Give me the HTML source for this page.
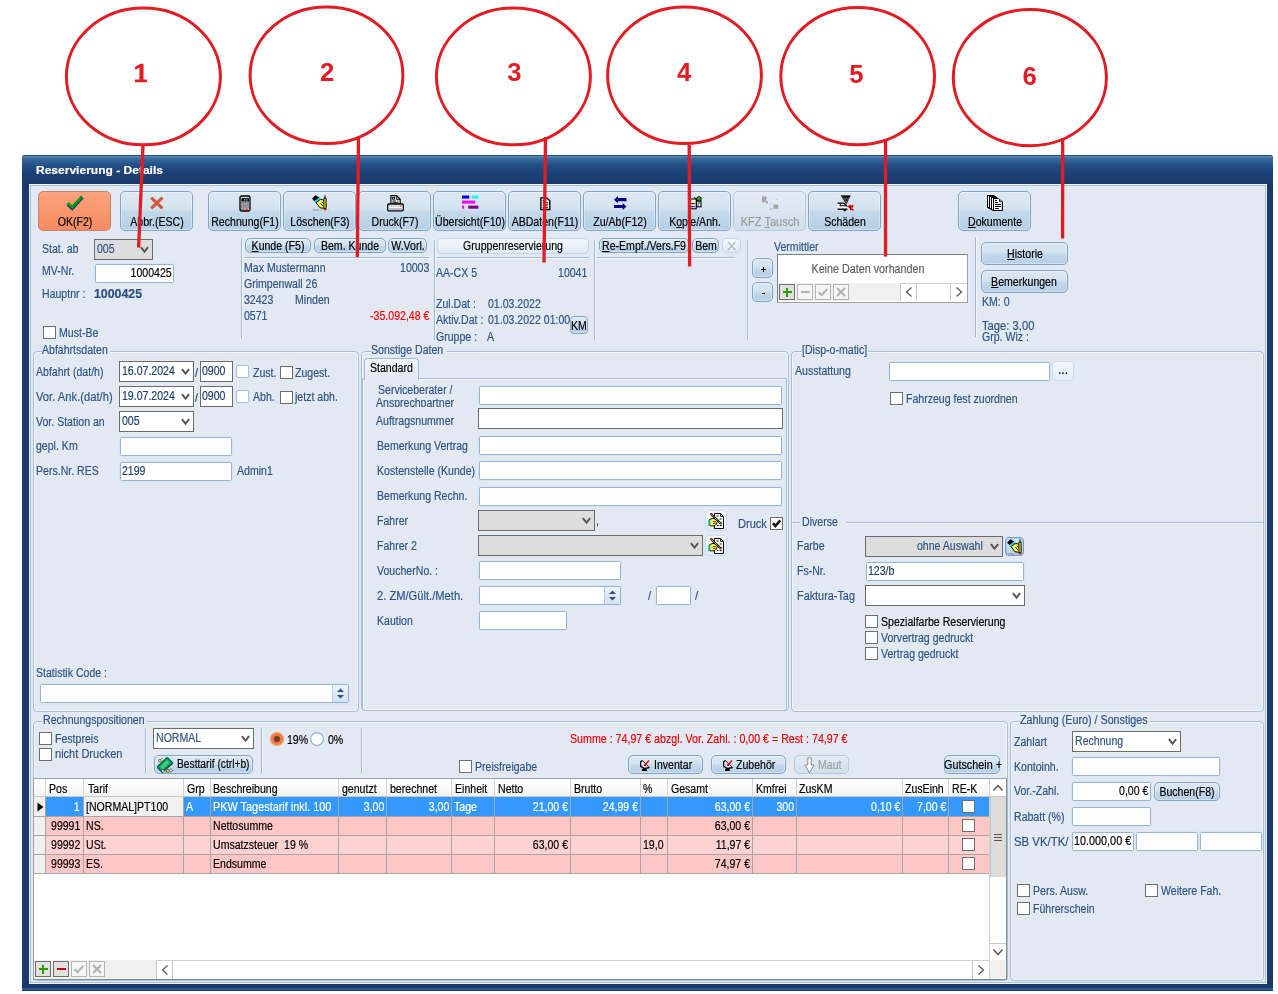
<!DOCTYPE html>
<html><head><meta charset="utf-8"><title>Reservierung - Details</title><style>
html,body{margin:0;padding:0;background:#fff;}
body{width:1278px;height:994px;position:relative;overflow:hidden;font-family:"Liberation Sans",sans-serif;font-size:12px;}
#w{position:absolute;left:0;top:0;width:1278px;height:994px;will-change:transform;}
#w>div,#w>span,#w>svg{position:absolute;box-sizing:content-box;}
div{box-sizing:content-box;}
.t{position:absolute;white-space:pre;display:block;-webkit-text-stroke:0.18px;}
u{text-decoration:underline;text-underline-offset:1px;}
</style></head><body><div id="w">
<div style="left:22px;top:155px;width:1251px;height:836px;background:#1a3a6b;border-radius:3px 3px 0 0;"></div>
<div style="left:22px;top:155px;width:1251px;height:29px;background:linear-gradient(#1f4b80 0px,#1f4b80 1px,#5c8eb8 1.2px,#4378a8 2.5px,#376a9d 4px,#2c5c92 7px,#224d84 11px,#1c4074 19px,#1a3a6b 29px);border-radius:3px 3px 0 0;"></div>
<div style="left:22px;top:988px;width:1251px;height:2px;background:#2a5a8e;"></div>
<div style="left:22px;top:990px;width:1251px;height:1px;background:#1a3a6b;"></div>
<div style="left:29px;top:184px;width:1238px;height:800px;background:#e2e9f2;box-shadow:inset 0 0 0 1px #eef3f8, inset 0 0 0 2px #a6c1da;"></div>
<span class="t" style="top:164px;line-height:13px;height:13px;font-size:11px;color:#fff;font-weight:bold;left:36.4px;transform:scaleX(1.093);transform-origin:0 50%;">Reservierung - Details</span>
<div style="left:38px;top:191px;width:71px;height:38px;background:linear-gradient(#fca380,#f8966c 50%,#f68d62);border:1px solid #bf8573;border-radius:5px;"></div>
<div style="left:65px;top:194px"><svg width="20" height="18" viewBox="0 0 20 18"><path d="M2.8 10.4 L7.2 14.6 L17.4 3.6" fill="none" stroke="#1a1a9a" stroke-width="3"/><path d="M2.6 9 L7.2 13.2 L17.2 2.4" fill="none" stroke="#0a9a0a" stroke-width="3"/></svg></div>
<span class="t" style="top:215px;line-height:14px;height:14px;font-size:12px;color:#000;left:-125.5px;width:400px;text-align:center;transform:scaleX(0.88);transform-origin:50% 50%;">OK(F2)</span>
<div style="left:120px;top:191px;width:71px;height:38px;background:linear-gradient(#dde9f3 0%,#d2e2ef 45%,#c2d8ea 55%,#b6cfe5 100%);border:1px solid #7fa5c8;border-radius:5px;box-shadow:inset 0 0 0 1px rgba(255,255,255,.35);"></div>
<div style="left:149px;top:195px"><svg width="16" height="16" viewBox="0 0 16 16"><path d="M2.2 2.6 L13.4 13.4 M13.4 2.6 L2.2 13.4" fill="none" stroke="#d4583a" stroke-width="3.1"/></svg></div>
<span class="t" style="top:215px;line-height:14px;height:14px;font-size:12px;color:#000;left:-43.5px;width:400px;text-align:center;transform:scaleX(0.88);transform-origin:50% 50%;">Abbr.(ESC)</span>
<div style="left:208px;top:191px;width:71px;height:38px;background:linear-gradient(#dde9f3 0%,#d2e2ef 45%,#c2d8ea 55%,#b6cfe5 100%);border:1px solid #7fa5c8;border-radius:5px;box-shadow:inset 0 0 0 1px rgba(255,255,255,.35);"></div>
<div style="left:238.5px;top:194.5px"><svg width="12" height="17" viewBox="0 0 12 17"><rect x="1" y="1" width="10" height="15" rx="1.5" fill="#d2d2d2" stroke="#000" stroke-width="1.3"/><rect x="2.4" y="3.2" width="7.6" height="3.3" fill="#000"/><circle cx="5.7" cy="4.9" r="0.8" fill="#1fe0f0"/><circle cx="7.9" cy="4.9" r="0.8" fill="#1fe0f0"/><g fill="#222"><rect x="2.3" y="7.3" width="1.2" height="1.2"/><rect x="4.3" y="7.3" width="1.2" height="1.2"/><rect x="6.3" y="7.3" width="1.2" height="1.2"/><rect x="8.4" y="7.3" width="1.2" height="1.2"/><rect x="2.3" y="9.4" width="1.2" height="1.2"/><rect x="4.3" y="9.4" width="1.2" height="1.2"/><rect x="6.3" y="9.4" width="1.2" height="1.2"/><rect x="8.4" y="9.4" width="1.2" height="1.2"/><rect x="2.3" y="11.4" width="1.2" height="1.2"/><rect x="4.3" y="11.4" width="1.2" height="1.2"/><rect x="6.3" y="11.4" width="1.2" height="1.2"/><rect x="8.4" y="11.4" width="1.2" height="1.2"/><rect x="2.3" y="13.5" width="1.2" height="1.2"/><rect x="4.3" y="13.5" width="1.2" height="1.2"/></g><rect x="6.3" y="13.6" width="3.2" height="1.1" fill="#f00"/></svg></div>
<span class="t" style="top:215px;line-height:14px;height:14px;font-size:12px;color:#000;left:44.5px;width:400px;text-align:center;transform:scaleX(0.88);transform-origin:50% 50%;">Rechnung(F1)</span>
<div style="left:283px;top:191px;width:71px;height:38px;background:linear-gradient(#dde9f3 0%,#d2e2ef 45%,#c2d8ea 55%,#b6cfe5 100%);border:1px solid #7fa5c8;border-radius:5px;box-shadow:inset 0 0 0 1px rgba(255,255,255,.35);"></div>
<div style="left:311.5px;top:194.7px"><svg width="17" height="16" viewBox="0 0 17 16"><polygon points="3.5,0.2 7.4,2.4 2.4,6.3 0.1,3.5" fill="#000"/><polygon points="7.4,2.4 8.6,4.1 3.6,7.9 2.4,6.3" fill="#00e0f0"/><path d="M4 7.6 L8.4 4.4 L10.8 4.8 L13.6 8.2 L14 12.2 L11.2 13.2 L8 12.8 Z" fill="#f8f26a" stroke="#000" stroke-width="1"/><path d="M13 0.3 V3" stroke="#000" stroke-width="1"/><path d="M11.9 3 H14.1 V13.6 H11.9Z" fill="#f4e418" stroke="#000" stroke-width="0.9"/><path d="M8.6 8.2 L10.8 11 M10 6.8 L11.6 8.8" stroke="#000" stroke-width="0.9"/><rect x="0.6" y="14.5" width="6.6" height="0.9" fill="#808080"/><rect x="8.8" y="14.5" width="0.8" height="0.8" fill="#808080"/><rect x="11.6" y="14.1" width="3" height="1.2" fill="#f00"/><rect x="15.8" y="14.5" width="0.7" height="0.8" fill="#808080"/></svg></div>
<span class="t" style="top:215px;line-height:14px;height:14px;font-size:12px;color:#000;left:119.5px;width:400px;text-align:center;transform:scaleX(0.88);transform-origin:50% 50%;">Löschen(F3)</span>
<div style="left:358px;top:191px;width:71px;height:38px;background:linear-gradient(#dde9f3 0%,#d2e2ef 45%,#c2d8ea 55%,#b6cfe5 100%);border:1px solid #7fa5c8;border-radius:5px;box-shadow:inset 0 0 0 1px rgba(255,255,255,.35);"></div>
<div style="left:386.5px;top:194.5px"><svg width="17" height="17" viewBox="0 0 17 17"><path d="M3.9 0.7 H9.6 L13.2 4.2 V9.4 H3.9 Z" fill="#fff" stroke="#000" stroke-width="1.2"/><path d="M9.4 0.8 V4.4 H13" fill="none" stroke="#000" stroke-width="0.9"/><rect x="5.6" y="2.4" width="2" height="1.8" fill="none" stroke="#000" stroke-width="0.9"/><path d="M5.4 6 H9 M5.4 7.8 H11.4" stroke="#000" stroke-width="1"/><rect x="10.2" y="5.6" width="1.2" height="1" fill="#000"/><rect x="0.7" y="9" width="15.6" height="6.8" rx="1.2" fill="#fff" stroke="#000" stroke-width="1.3"/><path d="M2 11.1 H13" stroke="#999" stroke-width="1.3" stroke-dasharray="1.1 0.7"/><rect x="13.3" y="10.4" width="1.3" height="1.3" fill="#f00"/><rect x="1.6" y="13" width="13.8" height="1.9" fill="#bdbdbd"/></svg></div>
<span class="t" style="top:215px;line-height:14px;height:14px;font-size:12px;color:#000;left:194.5px;width:400px;text-align:center;transform:scaleX(0.88);transform-origin:50% 50%;">Druck(F7)</span>
<div style="left:433px;top:191px;width:71px;height:38px;background:linear-gradient(#dde9f3 0%,#d2e2ef 45%,#c2d8ea 55%,#b6cfe5 100%);border:1px solid #7fa5c8;border-radius:5px;box-shadow:inset 0 0 0 1px rgba(255,255,255,.35);"></div>
<div style="left:461.8px;top:195.4px"><svg width="17" height="15" viewBox="0 0 17 15"><rect x="0" y="0.5" width="7.2" height="3.1" fill="#0000f8"/><rect x="10.1" y="0.5" width="6.3" height="3.1" fill="#00ffff"/><rect x="0" y="5.6" width="13.2" height="3" fill="#ff00ff"/><rect x="0" y="10.6" width="2.2" height="3.1" fill="#ff00ff"/><rect x="6.2" y="10.6" width="10.2" height="3.1" fill="#800080"/></svg></div>
<span class="t" style="top:215px;line-height:14px;height:14px;font-size:12px;color:#000;left:269.5px;width:400px;text-align:center;transform:scaleX(0.88);transform-origin:50% 50%;">Übersicht(F10)</span>
<div style="left:508px;top:191px;width:71px;height:38px;background:linear-gradient(#dde9f3 0%,#d2e2ef 45%,#c2d8ea 55%,#b6cfe5 100%);border:1px solid #7fa5c8;border-radius:5px;box-shadow:inset 0 0 0 1px rgba(255,255,255,.35);"></div>
<div style="left:539.5px;top:196.8px"><svg width="11" height="14" viewBox="0 0 11 14"><path d="M0.9 0.9 H6.6 L9.8 3.6 V12.5 H0.9 Z" fill="#fff" stroke="#000" stroke-width="1.4"/><path d="M2.6 3.6 H5.4 M2.6 5.8 H8 M2.6 8 H8 M2.6 10.2 H8" stroke="#000" stroke-width="1.1"/></svg></div>
<span class="t" style="top:215px;line-height:14px;height:14px;font-size:12px;color:#000;left:344.5px;width:400px;text-align:center;transform:scaleX(0.88);transform-origin:50% 50%;">ABDaten(F11)</span>
<div style="left:583px;top:191px;width:71px;height:38px;background:linear-gradient(#dde9f3 0%,#d2e2ef 45%,#c2d8ea 55%,#b6cfe5 100%);border:1px solid #7fa5c8;border-radius:5px;box-shadow:inset 0 0 0 1px rgba(255,255,255,.35);"></div>
<div style="left:613.8px;top:195.9px"><svg width="13" height="15" viewBox="0 0 13 15"><path d="M0 3.7 L3.9 0 V2.1 H12.5 V5.3 H3.9 V7.3Z" fill="#000080"/><path d="M12.5 10.6 L8.6 6.9 V9.1 H0 V12.1 H8.6 V14Z" fill="#000080"/></svg></div>
<span class="t" style="top:215px;line-height:14px;height:14px;font-size:12px;color:#000;left:419.5px;width:400px;text-align:center;transform:scaleX(0.88);transform-origin:50% 50%;">Zu/Ab(F12)</span>
<div style="left:658px;top:191px;width:71px;height:38px;background:linear-gradient(#dde9f3 0%,#d2e2ef 45%,#c2d8ea 55%,#b6cfe5 100%);border:1px solid #7fa5c8;border-radius:5px;box-shadow:inset 0 0 0 1px rgba(255,255,255,.35);"></div>
<div style="left:687.5px;top:195.5px"><svg width="15" height="14" viewBox="0 0 15 14"><rect x="0.6" y="3" width="7.6" height="9.8" fill="#fffbe0" stroke="#000" stroke-width="1.1"/><path d="M1.8 5 H3.4 M1.8 7.6 H6.8 M1.8 10.6 H6.8" stroke="#1a1ac8" stroke-width="1.1"/><path d="M4.2 6.2 H6 M2.4 9 H4" stroke="#f0e020" stroke-width="1"/><rect x="8.6" y="5" width="4.4" height="5.8" fill="#fffbe0" stroke="#000" stroke-width="1.1"/><path d="M9.6 7 H12 M9.6 9 H11" stroke="#1a1ac8" stroke-width="1"/><path d="M6.2 1.2 L8.8 3.4" stroke="#000" stroke-width="1"/><circle cx="11" cy="2.8" r="2.6" fill="#000"/><path d="M9.3 2.8 H12.7 M11 1.1 V4.5" stroke="#0e0" stroke-width="1.3"/></svg></div>
<span class="t" style="top:215px;line-height:14px;height:14px;font-size:12px;color:#000;left:494.5px;width:400px;text-align:center;transform:scaleX(0.88);transform-origin:50% 50%;">K<u>o</u>pie/Anh.</span>
<div style="left:733px;top:191px;width:71px;height:38px;background:linear-gradient(#e4edf5,#cfdfed);border:1px solid #b4cbe0;border-radius:5px;"></div>
<div style="left:761.8px;top:195.6px"><svg width="17" height="15" viewBox="0 0 17 15"><path d="M0 0.4 H4.6 V0 H6 V1.6 H4.4 V5.4 H6 V7.6 H4 V6.2 H0Z" fill="#a4a4a4"/><path d="M4.6 0 H6 V1.2 H4.6Z" fill="#fff"/><path d="M11.4 8.4 H16.2 V12.8 H9.8 L9 14.8 L7.4 12.4 H11.4Z" fill="#a4a4a4"/><rect x="8.2" y="7.2" width="1" height="1" fill="#bbb"/><rect x="14.2" y="3" width="0.9" height="0.9" fill="#bbb"/></svg></div>
<span class="t" style="top:215px;line-height:14px;height:14px;font-size:12px;color:#9a9a9a;left:569.5px;width:400px;text-align:center;transform:scaleX(0.917);transform-origin:50% 50%;">KFZ <u>T</u>ausch</span>
<div style="left:808px;top:191px;width:71px;height:38px;background:linear-gradient(#dde9f3 0%,#d2e2ef 45%,#c2d8ea 55%,#b6cfe5 100%);border:1px solid #7fa5c8;border-radius:5px;box-shadow:inset 0 0 0 1px rgba(255,255,255,.35);"></div>
<div style="left:836.5px;top:194.5px"><svg width="17" height="17" viewBox="0 0 17 17"><path d="M3.6 0.5 H13.6 L9.6 9.8 Z" fill="#555"/><path d="M3.6 0.5 H13.6 L12.6 2.6 H6 Z" fill="#111"/><path d="M6 3 L9.2 8.6 M8.6 2 L10.4 7 M11.4 1.4 L10 6" stroke="#111" stroke-width="1" stroke-dasharray="1 0.8"/><path d="M0.5 7.8 H7 L10.2 11 V14 H0.5Z" fill="#fff"/><path d="M0.5 8.1 H6.8 L10.4 11.6" fill="none" stroke="#000" stroke-width="1.3"/><path d="M3.2 8.6 V10.8 H9" fill="none" stroke="#000" stroke-width="1.1"/><path d="M0.5 14.2 H10.4" stroke="#000" stroke-width="1.4"/><path d="M5.4 14.4 H10 L7.8 16.6Z" fill="#000"/><polygon points="10.6,11.6 13,9.6 14.4,10.8 16.4,9.6 16,12.4 14.2,12.6 16.4,14.2 16.4,16.4 14.6,14.8 13,15.4 12.6,13.2" fill="#f00"/><path d="M12.4 11.4 L13.6 12.6 M15 10.6 L15.6 11.6 M13.4 14 L14.4 14.4" stroke="#000" stroke-width="0.9"/></svg></div>
<span class="t" style="top:215px;line-height:14px;height:14px;font-size:12px;color:#000;left:644.5px;width:400px;text-align:center;transform:scaleX(0.88);transform-origin:50% 50%;">Schäden</span>
<div style="left:958px;top:191px;width:71px;height:38px;background:linear-gradient(#dde9f3 0%,#d2e2ef 45%,#c2d8ea 55%,#b6cfe5 100%);border:1px solid #7fa5c8;border-radius:5px;box-shadow:inset 0 0 0 1px rgba(255,255,255,.35);"></div>
<div style="left:987px;top:195px"><svg width="16" height="16" viewBox="0 0 16 16"><path d="M0 0 H6.8 L15.9 6.4 V15.9 H6.2 L0 12.8Z" fill="#000"/><rect x="1" y="1" width="1" height="11" fill="#fff"/><rect x="3" y="2" width="1" height="11.2" fill="#fff"/><rect x="5" y="3" width="1" height="11.4" fill="#fff"/><path d="M7 4 H12 V6.8 H14.8 V14.9 H7Z" fill="#fff"/><path d="M12.9 4.8 L14 5.9 H12.9Z" fill="#fff"/><path d="M8 5.5 H10 M8 7.5 H11 M8 9.5 H14 M8 11.5 H14 M8 13.5 H12" stroke="#000" stroke-width="1"/></svg></div>
<span class="t" style="top:215px;line-height:14px;height:14px;font-size:12px;color:#000;left:794.5px;width:400px;text-align:center;transform:scaleX(0.88);transform-origin:50% 50%;"><u>D</u>okumente</span>
<span class="t" style="top:242px;line-height:14px;height:14px;font-size:12px;color:#2f5483;left:41.7px;transform:scaleX(0.88);transform-origin:0 50%;">Stat. ab</span>
<div style="left:94px;top:239px;width:57px;height:19px;background:#dddddd;border:1px solid #6b6b6b;"><svg width="9" height="8" viewBox="0 0 9 8" style="position:absolute;right:3px;top:6.4px"><path d="M0.9 1.2 L4.5 5.6 L8.1 1.2" fill="none" stroke="#565656" stroke-width="2"/></svg></div>
<span class="t" style="top:242px;line-height:14px;height:14px;font-size:12px;color:#2f5483;left:96.7px;transform:scaleX(0.88);transform-origin:0 50%;">005</span>
<span class="t" style="top:264px;line-height:14px;height:14px;font-size:12px;color:#2f5483;left:41.7px;transform:scaleX(0.88);transform-origin:0 50%;">MV-Nr.</span>
<div style="left:95px;top:264px;width:77px;height:17px;background:#fff;border:1px solid #94b5d5;border-radius:1.5px;box-shadow:0 0 0 1px rgba(210,226,241,.55);"></div>
<span class="t" style="top:265.5px;line-height:14px;height:14px;font-size:12px;color:#000;right:1106.7px;transform:scaleX(0.88);transform-origin:100% 50%;">1000425</span>
<span class="t" style="top:287px;line-height:14px;height:14px;font-size:12px;color:#2f5483;left:41.7px;transform:scaleX(0.88);transform-origin:0 50%;">Hauptnr :</span>
<span class="t" style="top:287px;line-height:14px;height:14px;font-size:12px;color:#2a4f80;font-weight:bold;left:94.0px;transform:scaleX(1.03);transform-origin:0 50%;">1000425</span>
<div style="left:43px;top:326px;width:11px;height:11px;background:#fff;border:1px solid #6e6e6e;"></div>
<span class="t" style="top:325.5px;line-height:14px;height:14px;font-size:12px;color:#2f5483;left:58.8px;transform:scaleX(0.88);transform-origin:0 50%;">Must-Be</span>
<div style="left:241px;top:238px;width:1px;height:100px;background:#9dbbd7;"></div>
<div style="left:242px;top:238px;width:1px;height:100px;background:#f2f6fa;"></div>
<div style="left:245px;top:238px;width:64px;height:13px;background:linear-gradient(#dde9f3 0%,#d2e2ef 45%,#c2d8ea 55%,#b6cfe5 100%);border:1px solid #7fa5c8;border-radius:5px;box-shadow:inset 0 0 0 1px rgba(255,255,255,.35);"></div>
<span class="t" style="top:239px;line-height:14px;height:14px;font-size:12px;color:#000;left:78.0px;width:400px;text-align:center;transform:scaleX(0.88);transform-origin:50% 50%;"><u>K</u>unde (F5)</span>
<div style="left:314px;top:238px;width:70px;height:13px;background:linear-gradient(#dde9f3 0%,#d2e2ef 45%,#c2d8ea 55%,#b6cfe5 100%);border:1px solid #7fa5c8;border-radius:5px;box-shadow:inset 0 0 0 1px rgba(255,255,255,.35);"></div>
<span class="t" style="top:239px;line-height:14px;height:14px;font-size:12px;color:#000;left:150.0px;width:400px;text-align:center;transform:scaleX(0.88);transform-origin:50% 50%;">Bem. Kunde</span>
<div style="left:388px;top:238px;width:37px;height:13px;background:linear-gradient(#dde9f3 0%,#d2e2ef 45%,#c2d8ea 55%,#b6cfe5 100%);border:1px solid #7fa5c8;border-radius:5px;box-shadow:inset 0 0 0 1px rgba(255,255,255,.35);"></div>
<span class="t" style="top:239px;line-height:14px;height:14px;font-size:12px;color:#000;left:207.5px;width:400px;text-align:center;transform:scaleX(0.88);transform-origin:50% 50%;">W.Vorl.</span>
<div style="left:244px;top:257px;width:185px;height:1px;background:#9dbbd7;"></div>
<div style="left:244px;top:258px;width:185px;height:1px;background:#f6f9fc;"></div>
<span class="t" style="top:261px;line-height:14px;height:14px;font-size:12px;color:#2f5483;left:243.8px;transform:scaleX(0.88);transform-origin:0 50%;">Max Mustermann</span>
<span class="t" style="top:261px;line-height:14px;height:14px;font-size:12px;color:#2f5483;right:848.7px;transform:scaleX(0.88);transform-origin:100% 50%;">10003</span>
<span class="t" style="top:277px;line-height:14px;height:14px;font-size:12px;color:#2f5483;left:243.8px;transform:scaleX(0.88);transform-origin:0 50%;">Grimpenwall 26</span>
<span class="t" style="top:292.5px;line-height:14px;height:14px;font-size:12px;color:#2f5483;left:243.8px;transform:scaleX(0.88);transform-origin:0 50%;">32423</span>
<span class="t" style="top:292.5px;line-height:14px;height:14px;font-size:12px;color:#2f5483;left:294.6px;transform:scaleX(0.88);transform-origin:0 50%;">Minden</span>
<span class="t" style="top:308.5px;line-height:14px;height:14px;font-size:12px;color:#2f5483;left:243.8px;transform:scaleX(0.88);transform-origin:0 50%;">0571</span>
<span class="t" style="top:308.5px;line-height:14px;height:14px;font-size:12px;color:#f00;right:848.7px;transform:scaleX(0.88);transform-origin:100% 50%;">-35.092,48 €</span>
<div style="left:434px;top:240px;width:1px;height:100px;background:#9dbbd7;"></div>
<div style="left:435px;top:240px;width:1px;height:100px;background:#f2f6fa;"></div>
<div style="left:437px;top:238px;width:150px;height:14px;background:linear-gradient(#f3f8fc,#dfeaf4);border:1px solid #c3d6e8;border-radius:5px;"></div>
<span class="t" style="top:238.6px;line-height:14px;height:14px;font-size:12px;color:#000;left:313px;width:400px;text-align:center;transform:scaleX(0.88);transform-origin:50% 50%;">Gruppenreservierung</span>
<div style="left:437px;top:257px;width:152px;height:1px;background:#9dbbd7;"></div>
<div style="left:437px;top:258px;width:152px;height:1px;background:#f6f9fc;"></div>
<span class="t" style="top:265.5px;line-height:14px;height:14px;font-size:12px;color:#2f5483;left:436.2px;transform:scaleX(0.88);transform-origin:0 50%;">AA-CX 5</span>
<span class="t" style="top:265.5px;line-height:14px;height:14px;font-size:12px;color:#2f5483;right:690.3px;transform:scaleX(0.88);transform-origin:100% 50%;">10041</span>
<span class="t" style="top:297.3px;line-height:14px;height:14px;font-size:12px;color:#2f5483;left:436.2px;transform:scaleX(0.88);transform-origin:0 50%;">Zul.Dat :</span>
<span class="t" style="top:297.3px;line-height:14px;height:14px;font-size:12px;color:#2f5483;left:487.9px;transform:scaleX(0.88);transform-origin:0 50%;">01.03.2022</span>
<span class="t" style="top:313.4px;line-height:14px;height:14px;font-size:12px;color:#2f5483;left:436.2px;transform:scaleX(0.88);transform-origin:0 50%;">Aktiv.Dat :</span>
<span class="t" style="top:313.4px;line-height:14px;height:14px;font-size:12px;color:#2f5483;left:487.7px;transform:scaleX(0.88);transform-origin:0 50%;">01.03.2022 01:00</span>
<span class="t" style="top:329.5px;line-height:14px;height:14px;font-size:12px;color:#2f5483;left:436.2px;transform:scaleX(0.88);transform-origin:0 50%;">Gruppe :</span>
<span class="t" style="top:329.5px;line-height:14px;height:14px;font-size:12px;color:#2f5483;left:487.0px;transform:scaleX(0.88);transform-origin:0 50%;">A</span>
<div style="left:570px;top:316px;width:16px;height:16px;background:linear-gradient(#dde9f3 0%,#d2e2ef 45%,#c2d8ea 55%,#b6cfe5 100%);border:1px solid #7fa5c8;border-radius:4px;box-shadow:inset 0 0 0 1px rgba(255,255,255,.35);"></div>
<span class="t" style="top:319px;line-height:14px;height:14px;font-size:12px;color:#000;left:379px;width:400px;text-align:center;transform:scaleX(0.88);transform-origin:50% 50%;">KM</span>
<div style="left:594px;top:240px;width:1px;height:100px;background:#9dbbd7;"></div>
<div style="left:595px;top:240px;width:1px;height:100px;background:#f2f6fa;"></div>
<div style="left:599px;top:238px;width:88px;height:13px;background:linear-gradient(#dde9f3 0%,#d2e2ef 45%,#c2d8ea 55%,#b6cfe5 100%);border:1px solid #7fa5c8;border-radius:5px;box-shadow:inset 0 0 0 1px rgba(255,255,255,.35);"></div>
<span class="t" style="top:239px;line-height:14px;height:14px;font-size:12px;color:#000;left:444.0px;width:400px;text-align:center;transform:scaleX(0.88);transform-origin:50% 50%;"><u>R</u>e-Empf./Vers.F9</span>
<div style="left:692px;top:238px;width:25px;height:13px;background:linear-gradient(#dde9f3 0%,#d2e2ef 45%,#c2d8ea 55%,#b6cfe5 100%);border:1px solid #7fa5c8;border-radius:5px;box-shadow:inset 0 0 0 1px rgba(255,255,255,.35);"></div>
<span class="t" style="top:239px;line-height:14px;height:14px;font-size:12px;color:#000;left:505.5px;width:400px;text-align:center;transform:scaleX(0.88);transform-origin:50% 50%;">Bem</span>
<div style="left:722px;top:238px;width:17px;height:13px;background:linear-gradient(#f3f8fc,#dfeaf4);border:1px solid #c3d6e8;border-radius:5px;"></div>
<span class="t" style="top:239px;line-height:14px;height:14px;font-size:12px;color:#000;left:531.5px;width:400px;text-align:center;transform:scaleX(0.88);transform-origin:50% 50%;"></span>
<svg width="10" height="10" style="left:727px;top:241px"><path d="M0.8 0.8 L8.6 9 M8.6 0.8 L0.8 9" stroke="#b4b4b4" stroke-width="1.1" fill="none"/></svg>
<div style="left:597px;top:257px;width:138px;height:1px;background:#9dbbd7;"></div>
<div style="left:597px;top:258px;width:138px;height:1px;background:#f6f9fc;"></div>
<div style="left:747px;top:240px;width:1px;height:100px;background:#9dbbd7;"></div>
<div style="left:748px;top:240px;width:1px;height:100px;background:#f2f6fa;"></div>
<div style="left:752px;top:258px;width:19px;height:18px;background:linear-gradient(#dde9f3 0%,#d2e2ef 45%,#c2d8ea 55%,#b6cfe5 100%);border:1px solid #7fa5c8;border-radius:5px;box-shadow:inset 0 0 0 1px rgba(255,255,255,.35);"></div>
<div style="left:761.2px;top:269px;width:5px;height:1.3px;background:#000;"></div>
<div style="left:763px;top:267.1px;width:1.3px;height:5px;background:#000;"></div>
<div style="left:752px;top:282px;width:19px;height:18px;background:linear-gradient(#dde9f3 0%,#d2e2ef 45%,#c2d8ea 55%,#b6cfe5 100%);border:1px solid #7fa5c8;border-radius:5px;box-shadow:inset 0 0 0 1px rgba(255,255,255,.35);"></div>
<div style="left:762.2px;top:292.6px;width:2.8px;height:1.3px;background:#000;"></div>
<span class="t" style="top:240.3px;line-height:14px;height:14px;font-size:12px;color:#2f5483;left:774.2px;transform:scaleX(0.88);transform-origin:0 50%;">Vermittler</span>
<div style="left:777px;top:254px;width:189px;height:47px;background:#fff;border:1px solid #a0a0a0;border-top-color:#7a8088;border-left-color:#7a8088;"></div>
<span class="t" style="top:262px;line-height:14px;height:14px;font-size:12px;color:#5e5e5e;left:667.8px;width:400px;text-align:center;transform:scaleX(0.897);transform-origin:50% 50%;">Keine Daten vorhanden</span>
<div style="left:778px;top:283px;width:189px;height:18px;background:#f0f0f0;"></div>
<div style="left:779px;top:284px;width:14px;height:14px;background:#e1e1e1;border:1px solid #6e6e6e;"></div>
<div style="left:782.5px;top:291px;width:9px;height:2.4px;background:#2a9d00;"></div>
<div style="left:785.8px;top:287.5px;width:2.4px;height:9px;background:#2a9d00;"></div>
<div style="left:797px;top:284px;width:14px;height:14px;background:#f5f5f5;border:1px solid #b5b5b5;"></div>
<div style="left:800.5px;top:291px;width:9px;height:2.2px;background:#b4b4b4;"></div>
<div style="left:815px;top:284px;width:14px;height:14px;background:#f5f5f5;border:1px solid #b5b5b5;"></div>
<svg width="16" height="16" style="left:815px;top:284px"><path d="M3.5 8.2 L6.6 11 L12.3 5" fill="none" stroke="#b4b4b4" stroke-width="2"/></svg>
<div style="left:833px;top:284px;width:14px;height:14px;background:#f5f5f5;border:1px solid #b5b5b5;"></div>
<svg width="16" height="16" style="left:833px;top:284px"><path d="M4 4 L12 12 M12 4 L4 12" fill="none" stroke="#b0b0b0" stroke-width="2"/></svg>
<div style="left:900px;top:283px;width:67px;height:18px;background:#fff;"></div>
<div style="left:900px;top:283px;width:1px;height:18px;background:#c8c8c8;"></div>
<div style="left:916px;top:283px;width:1px;height:18px;background:#c8c8c8;"></div>
<div style="left:950px;top:283px;width:1px;height:18px;background:#c8c8c8;"></div>
<div style="left:900px;top:283px;width:67px;height:1px;background:#d0d0d0;"></div>
<svg width="10" height="12" style="left:904px;top:286.0px"><path d="M7.5 1.5 L2.5 6 L7.5 10.5" fill="none" stroke="#5a5a5a" stroke-width="1.3"/></svg>
<svg width="10" height="12" style="left:954px;top:286.0px"><path d="M2.5 1.5 L7.5 6 L2.5 10.5" fill="none" stroke="#5a5a5a" stroke-width="1.3"/></svg>
<div style="left:975px;top:237px;width:1px;height:100px;background:#9dbbd7;"></div>
<div style="left:976px;top:237px;width:1px;height:100px;background:#f2f6fa;"></div>
<div style="left:981px;top:242px;width:85px;height:21px;background:linear-gradient(#dde9f3 0%,#d2e2ef 45%,#c2d8ea 55%,#b6cfe5 100%);border:1px solid #7fa5c8;border-radius:5px;box-shadow:inset 0 0 0 1px rgba(255,255,255,.35);"></div>
<span class="t" style="top:246.7px;line-height:14px;height:14px;font-size:12px;color:#000;left:824.8px;width:400px;text-align:center;transform:scaleX(0.88);transform-origin:50% 50%;"><u>H</u>istorie</span>
<div style="left:981px;top:270px;width:85px;height:21px;background:linear-gradient(#dde9f3 0%,#d2e2ef 45%,#c2d8ea 55%,#b6cfe5 100%);border:1px solid #7fa5c8;border-radius:5px;box-shadow:inset 0 0 0 1px rgba(255,255,255,.35);"></div>
<span class="t" style="top:274.7px;line-height:14px;height:14px;font-size:12px;color:#000;left:824.4000000000001px;width:400px;text-align:center;transform:scaleX(0.88);transform-origin:50% 50%;"><u>B</u>emerkungen</span>
<span class="t" style="top:294.7px;line-height:14px;height:14px;font-size:12px;color:#2f5483;left:981.8px;transform:scaleX(0.88);transform-origin:0 50%;">KM: 0</span>
<span class="t" style="top:318.6px;line-height:14px;height:14px;font-size:12px;color:#2f5483;left:981.8px;transform:scaleX(0.936);transform-origin:0 50%;">Tage: 3,00</span>
<span class="t" style="top:330.3px;line-height:14px;height:14px;font-size:12px;color:#2f5483;left:981.8px;transform:scaleX(0.88);transform-origin:0 50%;">Grp. Wiz :</span>
<div style="left:33px;top:351px;width:324px;height:359px;border:1px solid #a3bfd9;border-radius:4px;box-shadow:inset 0 0 0 1px rgba(255,255,255,.55);"></div>
<div style="left:41.6px;top:349px;width:68.9px;height:5px;background:#e2e9f2;"></div>
<span class="t" style="top:343.0px;line-height:14px;height:14px;font-size:12px;color:#2f5483;left:42.3px;transform:scaleX(0.88);transform-origin:0 50%;">Abfahrtsdaten</span>
<span class="t" style="top:365px;line-height:14px;height:14px;font-size:12px;color:#2f5483;left:35.7px;transform:scaleX(0.88);transform-origin:0 50%;">Abfahrt (dat/h)</span>
<div style="left:119px;top:361px;width:73px;height:19px;background:#fff;border:1px solid #6b6b6b;"><svg width="9" height="8" viewBox="0 0 9 8" style="position:absolute;right:3px;top:6.4px"><path d="M0.9 1.2 L4.5 5.6 L8.1 1.2" fill="none" stroke="#565656" stroke-width="2"/></svg></div>
<span class="t" style="top:364px;line-height:14px;height:14px;font-size:12px;color:#1c3f6e;left:122.2px;transform:scaleX(0.88);transform-origin:0 50%;">16.07.2024</span>
<span class="t" style="top:366px;line-height:14px;height:14px;font-size:12px;color:#1c3f6e;left:194.8px;transform:scaleX(0.9);transform-origin:0 50%;">/</span>
<div style="left:200px;top:361px;width:31px;height:19px;background:#fff;border:1px solid #6b6b6b;"></div>
<span class="t" style="top:364px;line-height:14px;height:14px;font-size:12px;color:#1c3f6e;left:202.2px;transform:scaleX(0.88);transform-origin:0 50%;">0900</span>
<div style="left:236px;top:365px;width:11px;height:11px;background:#fff;border:1px solid #9fc0e0;border-radius:2px;"></div>
<span class="t" style="top:365.7px;line-height:14px;height:14px;font-size:12px;color:#2f5483;left:252.8px;transform:scaleX(0.88);transform-origin:0 50%;">Zust.</span>
<div style="left:280px;top:366px;width:11px;height:11px;background:#fff;border:1px solid #6e6e6e;"></div>
<span class="t" style="top:365.7px;line-height:14px;height:14px;font-size:12px;color:#2f5483;left:294.6px;transform:scaleX(0.88);transform-origin:0 50%;">Zugest.</span>
<span class="t" style="top:389.6px;line-height:14px;height:14px;font-size:12px;color:#2f5483;left:35.7px;transform:scaleX(0.935);transform-origin:0 50%;">Vor. Ank.(dat/h)</span>
<div style="left:119px;top:386px;width:73px;height:19px;background:#fff;border:1px solid #6b6b6b;"><svg width="9" height="8" viewBox="0 0 9 8" style="position:absolute;right:3px;top:6.4px"><path d="M0.9 1.2 L4.5 5.6 L8.1 1.2" fill="none" stroke="#565656" stroke-width="2"/></svg></div>
<span class="t" style="top:388.6px;line-height:14px;height:14px;font-size:12px;color:#1c3f6e;left:122.2px;transform:scaleX(0.88);transform-origin:0 50%;">19.07.2024</span>
<span class="t" style="top:390.6px;line-height:14px;height:14px;font-size:12px;color:#1c3f6e;left:194.8px;transform:scaleX(0.9);transform-origin:0 50%;">/</span>
<div style="left:200px;top:386px;width:31px;height:19px;background:#fff;border:1px solid #6b6b6b;"></div>
<span class="t" style="top:388.6px;line-height:14px;height:14px;font-size:12px;color:#1c3f6e;left:202.2px;transform:scaleX(0.88);transform-origin:0 50%;">0900</span>
<div style="left:236px;top:390px;width:11px;height:11px;background:#fff;border:1px solid #9fc0e0;border-radius:2px;"></div>
<span class="t" style="top:390.3px;line-height:14px;height:14px;font-size:12px;color:#2f5483;left:252.8px;transform:scaleX(0.88);transform-origin:0 50%;">Abh.</span>
<div style="left:280px;top:391px;width:11px;height:11px;background:#fff;border:1px solid #6e6e6e;"></div>
<span class="t" style="top:390.3px;line-height:14px;height:14px;font-size:12px;color:#2f5483;left:295.2px;transform:scaleX(0.88);transform-origin:0 50%;">jetzt abh.</span>
<span class="t" style="top:414.7px;line-height:14px;height:14px;font-size:12px;color:#2f5483;left:35.7px;transform:scaleX(0.88);transform-origin:0 50%;">Vor. Station an</span>
<div style="left:119px;top:411px;width:73px;height:19px;background:#fff;border:1px solid #6b6b6b;"><svg width="9" height="8" viewBox="0 0 9 8" style="position:absolute;right:3px;top:6.4px"><path d="M0.9 1.2 L4.5 5.6 L8.1 1.2" fill="none" stroke="#565656" stroke-width="2"/></svg></div>
<span class="t" style="top:413.7px;line-height:14px;height:14px;font-size:12px;color:#1c3f6e;left:122.2px;transform:scaleX(0.88);transform-origin:0 50%;">005</span>
<span class="t" style="top:439.4px;line-height:14px;height:14px;font-size:12px;color:#2f5483;left:35.7px;transform:scaleX(0.88);transform-origin:0 50%;">gepl. Km</span>
<div style="left:120px;top:437px;width:110px;height:17px;background:#fff;border:1px solid #94b5d5;border-radius:1.5px;box-shadow:0 0 0 1px rgba(210,226,241,.55);"></div>
<span class="t" style="top:464.1px;line-height:14px;height:14px;font-size:12px;color:#2f5483;left:35.7px;transform:scaleX(0.88);transform-origin:0 50%;">Pers.Nr. RES</span>
<div style="left:120px;top:462px;width:110px;height:17px;background:#fff;border:1px solid #94b5d5;border-radius:1.5px;box-shadow:0 0 0 1px rgba(210,226,241,.55);"></div>
<span class="t" style="top:464.1px;line-height:14px;height:14px;font-size:12px;color:#1c3f6e;left:122.2px;transform:scaleX(0.88);transform-origin:0 50%;">2199</span>
<span class="t" style="top:464.1px;line-height:14px;height:14px;font-size:12px;color:#2f5483;left:237.4px;transform:scaleX(0.88);transform-origin:0 50%;">Admin1</span>
<span class="t" style="top:665.6px;line-height:14px;height:14px;font-size:12px;color:#2f5483;left:35.7px;transform:scaleX(0.88);transform-origin:0 50%;">Statistik Code :</span>
<div style="left:40px;top:684px;width:307px;height:17px;background:#fff;border:1px solid #94b5d5;border-radius:1.5px;box-shadow:0 0 0 1px rgba(210,226,241,.55);"></div>
<div style="left:332px;top:685px;width:15px;height:17px;background:linear-gradient(#eaf1f8,#d3e2f0);border-left:1px solid #b9cfe4;"></div>
<svg width="9" height="11" viewBox="0 0 9 11" style="left:336px;top:688px"><path d="M4.5 0.4 L8 4 H1 Z M4.5 10.6 L8 7 H1 Z" fill="#2c4f86"/></svg>
<div style="left:361px;top:351px;width:426px;height:358px;border:1px solid #a3bfd9;border-radius:4px;box-shadow:inset 0 0 0 1px rgba(255,255,255,.55);"></div>
<div style="left:370.5px;top:349px;width:76.4px;height:5px;background:#e2e9f2;"></div>
<span class="t" style="top:343.09999999999997px;line-height:14px;height:14px;font-size:12px;color:#2f5483;left:371.2px;transform:scaleX(0.88);transform-origin:0 50%;">Sonstige Daten</span>
<div style="left:362px;top:378px;width:423px;height:331px;border:1px solid #a3bfd9;border-radius:0 0 3px 3px;box-shadow:inset 1px 1px 0 rgba(255,255,255,.6);"></div>
<div style="left:364px;top:358px;width:53px;height:21px;background:linear-gradient(#f3f7fb,#e6edf5 60%,#e2e9f2);border:1px solid #9dbbd7;border-bottom:none;border-radius:4px 4px 0 0;"></div>
<span class="t" style="top:360.8px;line-height:14px;height:14px;font-size:12px;color:#000;left:369.6px;transform:scaleX(0.88);transform-origin:0 50%;">Standard</span>
<div style="left:374px;top:384px;width:102px;height:23px;overflow:hidden;"><span class="t" style="left:3.6px;top:-1px;line-height:14px;color:#2f5483;transform:scaleX(.88);transform-origin:0 50%">Serviceberater /</span><span class="t" style="left:1.8px;top:11.6px;line-height:14px;color:#2f5483;transform:scaleX(.88);transform-origin:0 50%">Ansprechpartner</span></div>
<div style="left:479px;top:386px;width:301px;height:17px;background:#fff;border:1px solid #94b5d5;border-radius:1.5px;box-shadow:0 0 0 1px rgba(210,226,241,.55);"></div>
<span class="t" style="top:413.5px;line-height:14px;height:14px;font-size:12px;color:#2f5483;left:376.0px;transform:scaleX(0.88);transform-origin:0 50%;">Auftragsnummer</span>
<div style="left:478px;top:408px;width:303px;height:19px;background:#fff;border:1px solid #6b6b6b;"></div>
<span class="t" style="top:438.7px;line-height:14px;height:14px;font-size:12px;color:#2f5483;left:376.6px;transform:scaleX(0.88);transform-origin:0 50%;">Bemerkung Vertrag</span>
<div style="left:479px;top:436px;width:301px;height:17px;background:#fff;border:1px solid #94b5d5;border-radius:1.5px;box-shadow:0 0 0 1px rgba(210,226,241,.55);"></div>
<span class="t" style="top:463.5px;line-height:14px;height:14px;font-size:12px;color:#2f5483;left:376.6px;transform:scaleX(0.88);transform-origin:0 50%;">Kostenstelle (Kunde)</span>
<div style="left:479px;top:461px;width:301px;height:17px;background:#fff;border:1px solid #94b5d5;border-radius:1.5px;box-shadow:0 0 0 1px rgba(210,226,241,.55);"></div>
<span class="t" style="top:489px;line-height:14px;height:14px;font-size:12px;color:#2f5483;left:376.6px;transform:scaleX(0.88);transform-origin:0 50%;">Bemerkung Rechn.</span>
<div style="left:479px;top:487px;width:301px;height:17px;background:#fff;border:1px solid #94b5d5;border-radius:1.5px;box-shadow:0 0 0 1px rgba(210,226,241,.55);"></div>
<span class="t" style="top:513.7px;line-height:14px;height:14px;font-size:12px;color:#2f5483;left:376.6px;transform:scaleX(0.88);transform-origin:0 50%;">Fahrer</span>
<div style="left:478px;top:510px;width:115px;height:19px;background:#dddddd;border:1px solid #6b6b6b;"><svg width="9" height="8" viewBox="0 0 9 8" style="position:absolute;right:3px;top:6.4px"><path d="M0.9 1.2 L4.5 5.6 L8.1 1.2" fill="none" stroke="#565656" stroke-width="2"/></svg></div>
<span class="t" style="top:514px;line-height:14px;height:14px;font-size:12px;color:#2f5483;left:595.7px;transform:scaleX(0.88);transform-origin:0 50%;">,</span>
<span class="t" style="top:538.7px;line-height:14px;height:14px;font-size:12px;color:#2f5483;left:376.6px;transform:scaleX(0.88);transform-origin:0 50%;">Fahrer 2</span>
<div style="left:478px;top:535px;width:223px;height:19px;background:#dddddd;border:1px solid #6b6b6b;"><svg width="9" height="8" viewBox="0 0 9 8" style="position:absolute;right:3px;top:6.4px"><path d="M0.9 1.2 L4.5 5.6 L8.1 1.2" fill="none" stroke="#565656" stroke-width="2"/></svg></div>
<div style="left:705px;top:510px;width:20px;height:19px;background:linear-gradient(#f2f7fb,#e2ecf5);border:1px solid #c8dced;border-radius:4px;"></div>
<div style="left:708px;top:513px"><svg width="16" height="16" viewBox="0 0 16 16"><path d="M6.4 0.5 H12.6 L15.5 3.4 V15.5 H6.4Z" fill="#fff" stroke="#000" stroke-width="1"/><path d="M12.6 0.5 V3.4 H15.5" fill="none" stroke="#000" stroke-width="0.9"/><path d="M8.6 3 H10.6 M11.6 6 H13.6 M9 12.6 H10.4 M11.6 12.6 H13.8 M12.6 9.4 H13.6" stroke="#000" stroke-width="1"/><path d="M1.6 6.6 L5 5.4 L8.6 6.2 L10 7.6 L9.6 9 L8.6 9.6 L8.6 11 L7 12.6 L3.4 13 L1.6 12.4Z" fill="#f8f250" stroke="#000" stroke-width="0.9"/><rect x="0" y="7" width="1.6" height="6" fill="#22d8e8"/><path d="M2.8 0.8 L13.2 11" stroke="#000" stroke-width="2.2"/><path d="M2.8 0.8 L13.2 11" stroke="#f0e020" stroke-width="1" stroke-dasharray="1.4 0.5"/><circle cx="2.9" cy="0.9" r="0.9" fill="#f00"/><path d="M5 8.6 H8 M5 10.4 H7.6" stroke="#000" stroke-width="0.7"/></svg></div>
<div style="left:705px;top:535px;width:20px;height:19px;background:linear-gradient(#f2f7fb,#e2ecf5);border:1px solid #c8dced;border-radius:4px;"></div>
<div style="left:708px;top:538px"><svg width="16" height="16" viewBox="0 0 16 16"><path d="M6.4 0.5 H12.6 L15.5 3.4 V15.5 H6.4Z" fill="#fff" stroke="#000" stroke-width="1"/><path d="M12.6 0.5 V3.4 H15.5" fill="none" stroke="#000" stroke-width="0.9"/><path d="M8.6 3 H10.6 M11.6 6 H13.6 M9 12.6 H10.4 M11.6 12.6 H13.8 M12.6 9.4 H13.6" stroke="#000" stroke-width="1"/><path d="M1.6 6.6 L5 5.4 L8.6 6.2 L10 7.6 L9.6 9 L8.6 9.6 L8.6 11 L7 12.6 L3.4 13 L1.6 12.4Z" fill="#f8f250" stroke="#000" stroke-width="0.9"/><rect x="0" y="7" width="1.6" height="6" fill="#22d8e8"/><path d="M2.8 0.8 L13.2 11" stroke="#000" stroke-width="2.2"/><path d="M2.8 0.8 L13.2 11" stroke="#f0e020" stroke-width="1" stroke-dasharray="1.4 0.5"/><circle cx="2.9" cy="0.9" r="0.9" fill="#f00"/><path d="M5 8.6 H8 M5 10.4 H7.6" stroke="#000" stroke-width="0.7"/></svg></div>
<span class="t" style="top:517px;line-height:14px;height:14px;font-size:12px;color:#2f5483;left:738.2px;transform:scaleX(0.92);transform-origin:0 50%;">Druck</span>
<div style="left:770px;top:517px;width:11px;height:11px;background:#fff;border:1px solid #6e6e6e;"><svg width="11" height="11" viewBox="0 0 11 11" style="position:absolute;left:0;top:0"><path d="M1.9 5.2 L4.4 8 L9.3 2.4" fill="none" stroke="#151515" stroke-width="2.5"/></svg></div>
<span class="t" style="top:564px;line-height:14px;height:14px;font-size:12px;color:#2f5483;left:376.6px;transform:scaleX(0.88);transform-origin:0 50%;">VoucherNo. :</span>
<div style="left:479px;top:561px;width:140px;height:17px;background:#fff;border:1px solid #94b5d5;border-radius:1.5px;box-shadow:0 0 0 1px rgba(210,226,241,.55);"></div>
<span class="t" style="top:588.7px;line-height:14px;height:14px;font-size:12px;color:#2f5483;left:376.6px;transform:scaleX(0.93);transform-origin:0 50%;">2. ZM/Gült./Meth.</span>
<div style="left:479px;top:586px;width:140px;height:17px;background:#fff;border:1px solid #94b5d5;border-radius:1.5px;box-shadow:0 0 0 1px rgba(210,226,241,.55);"></div>
<div style="left:604px;top:587px;width:15px;height:17px;background:linear-gradient(#eaf1f8,#d3e2f0);border-left:1px solid #b9cfe4;"></div>
<svg width="9" height="11" viewBox="0 0 9 11" style="left:608px;top:590px"><path d="M4.5 0.4 L8 4 H1 Z M4.5 10.6 L8 7 H1 Z" fill="#2c4f86"/></svg>
<span class="t" style="top:589px;line-height:14px;height:14px;font-size:12px;color:#2f5483;left:648.2px;transform:scaleX(0.95);transform-origin:0 50%;">/</span>
<div style="left:656px;top:586px;width:33px;height:17px;background:#fff;border:1px solid #94b5d5;border-radius:1.5px;box-shadow:0 0 0 1px rgba(210,226,241,.55);"></div>
<span class="t" style="top:589px;line-height:14px;height:14px;font-size:12px;color:#2f5483;left:695.4px;transform:scaleX(0.95);transform-origin:0 50%;">/</span>
<span class="t" style="top:613.5px;line-height:14px;height:14px;font-size:12px;color:#2f5483;left:376.6px;transform:scaleX(0.88);transform-origin:0 50%;">Kaution</span>
<div style="left:479px;top:611px;width:86px;height:17px;background:#fff;border:1px solid #94b5d5;border-radius:1.5px;box-shadow:0 0 0 1px rgba(210,226,241,.55);"></div>
<div style="left:791px;top:351px;width:471px;height:359px;border:1px solid #a3bfd9;border-radius:4px;box-shadow:inset 0 0 0 1px rgba(255,255,255,.55);"></div>
<div style="left:801.6px;top:349px;width:66.6px;height:5px;background:#e2e9f2;"></div>
<span class="t" style="top:343.09999999999997px;line-height:14px;height:14px;font-size:12px;color:#2f5483;left:802.3px;transform:scaleX(0.88);transform-origin:0 50%;">[Disp-o-matic]</span>
<span class="t" style="top:364.2px;line-height:14px;height:14px;font-size:12px;color:#2f5483;left:795.2px;transform:scaleX(0.88);transform-origin:0 50%;">Ausstattung</span>
<div style="left:889px;top:362px;width:159px;height:17px;background:#fff;border:1px solid #94b5d5;border-radius:1.5px;box-shadow:0 0 0 1px rgba(210,226,241,.55);"></div>
<div style="left:1052px;top:361px;width:20px;height:18px;background:linear-gradient(#f2f7fb,#e2ecf5);border:1px solid #c8dced;border-radius:4px;"></div>
<span class="t" style="top:363px;line-height:14px;height:14px;font-size:12px;color:#000;left:863px;width:400px;text-align:center;transform:scaleX(1);transform-origin:50% 50%;">...</span>
<div style="left:890px;top:392px;width:11px;height:11px;background:#fff;border:1px solid #6e6e6e;"></div>
<span class="t" style="top:391.6px;line-height:14px;height:14px;font-size:12px;color:#2f5483;left:905.8px;transform:scaleX(0.88);transform-origin:0 50%;">Fahrzeug fest zuordnen</span>
<div style="left:792px;top:522px;width:471px;height:1px;background:#9dbbd7;"></div>
<div style="left:792px;top:523px;width:471px;height:1px;background:#f6f9fc;"></div>
<div style="left:799.6px;top:519px;width:46.5px;height:7px;background:#e2e9f2;"></div>
<span class="t" style="top:515px;line-height:14px;height:14px;font-size:12px;color:#2f5483;left:801.5px;transform:scaleX(0.88);transform-origin:0 50%;">Diverse</span>
<span class="t" style="top:538.8px;line-height:14px;height:14px;font-size:12px;color:#2f5483;left:796.7px;transform:scaleX(0.88);transform-origin:0 50%;">Farbe</span>
<div style="left:865px;top:536px;width:136px;height:19px;background:#dddddd;border:1px solid #6b6b6b;"><svg width="9" height="8" viewBox="0 0 9 8" style="position:absolute;right:3px;top:6.4px"><path d="M0.9 1.2 L4.5 5.6 L8.1 1.2" fill="none" stroke="#565656" stroke-width="2"/></svg></div>
<span class="t" style="top:539px;line-height:14px;height:14px;font-size:12px;color:#2f5483;right:294.8px;transform:scaleX(0.88);transform-origin:100% 50%;">ohne Auswahl</span>
<div style="left:1005px;top:537px;width:17px;height:17px;background:linear-gradient(#dce9f4,#b9d3e8);border:1px solid #6f9fcb;border-radius:4px;box-shadow:inset 0 0 0 1px rgba(160,195,225,.7);"></div>
<div style="left:1007px;top:539px"><svg width="17" height="16" viewBox="0 0 17 16"><polygon points="3.5,0.2 7.4,2.4 2.4,6.3 0.1,3.5" fill="#000"/><polygon points="7.4,2.4 8.6,4.1 3.6,7.9 2.4,6.3" fill="#00e0f0"/><path d="M4 7.6 L8.4 4.4 L10.8 4.8 L13.6 8.2 L14 12.2 L11.2 13.2 L8 12.8 Z" fill="#f8f26a" stroke="#000" stroke-width="1"/><path d="M13 0.3 V3" stroke="#000" stroke-width="1"/><path d="M11.9 3 H14.1 V13.6 H11.9Z" fill="#f4e418" stroke="#000" stroke-width="0.9"/><path d="M8.6 8.2 L10.8 11 M10 6.8 L11.6 8.8" stroke="#000" stroke-width="0.9"/><rect x="0.6" y="14.5" width="6.6" height="0.9" fill="#808080"/><rect x="8.8" y="14.5" width="0.8" height="0.8" fill="#808080"/><rect x="11.6" y="14.1" width="3" height="1.2" fill="#f00"/><rect x="15.8" y="14.5" width="0.7" height="0.8" fill="#808080"/></svg></div>
<span class="t" style="top:563.6px;line-height:14px;height:14px;font-size:12px;color:#2f5483;left:796.7px;transform:scaleX(0.88);transform-origin:0 50%;">Fs-Nr.</span>
<div style="left:866px;top:562px;width:156px;height:17px;background:#fff;border:1px solid #94b5d5;border-radius:1.5px;box-shadow:0 0 0 1px rgba(210,226,241,.55);"></div>
<span class="t" style="top:563.5px;line-height:14px;height:14px;font-size:12px;color:#1c3f6e;left:867.5px;transform:scaleX(0.88);transform-origin:0 50%;">123/b</span>
<span class="t" style="top:588.9px;line-height:14px;height:14px;font-size:12px;color:#2f5483;left:796.7px;transform:scaleX(0.905);transform-origin:0 50%;">Faktura-Tag</span>
<div style="left:865px;top:585px;width:158px;height:19px;background:#fff;border:1px solid #6b6b6b;"><svg width="9" height="8" viewBox="0 0 9 8" style="position:absolute;right:3px;top:6.4px"><path d="M0.9 1.2 L4.5 5.6 L8.1 1.2" fill="none" stroke="#565656" stroke-width="2"/></svg></div>
<div style="left:865px;top:615px;width:11px;height:11px;background:#fff;border:1px solid #6e6e6e;"></div>
<span class="t" style="top:614.6px;line-height:14px;height:14px;font-size:12px;color:#000;left:880.5px;transform:scaleX(0.88);transform-origin:0 50%;">Spezialfarbe Reservierung</span>
<div style="left:865px;top:631px;width:11px;height:11px;background:#fff;border:1px solid #6e6e6e;"></div>
<span class="t" style="top:630.5px;line-height:14px;height:14px;font-size:12px;color:#2f5483;left:880.5px;transform:scaleX(0.88);transform-origin:0 50%;">Vorvertrag gedruckt</span>
<div style="left:865px;top:647px;width:11px;height:11px;background:#fff;border:1px solid #6e6e6e;"></div>
<span class="t" style="top:646.5px;line-height:14px;height:14px;font-size:12px;color:#2f5483;left:880.5px;transform:scaleX(0.88);transform-origin:0 50%;">Vertrag gedruckt</span>
<div style="left:33px;top:721px;width:973px;height:258px;border:1px solid #a3bfd9;border-radius:4px;box-shadow:inset 0 0 0 1px rgba(255,255,255,.55);"></div>
<div style="left:42.4px;top:719px;width:105.0px;height:5px;background:#e2e9f2;"></div>
<span class="t" style="top:713.4000000000001px;line-height:14px;height:14px;font-size:12px;color:#2f5483;left:43.1px;transform:scaleX(0.88);transform-origin:0 50%;">Rechnungspositionen</span>
<div style="left:39px;top:732px;width:11px;height:11px;background:#fff;border:1px solid #6e6e6e;"></div>
<span class="t" style="top:732.1px;line-height:14px;height:14px;font-size:12px;color:#2f5483;left:54.6px;transform:scaleX(0.88);transform-origin:0 50%;">Festpreis</span>
<div style="left:39px;top:748px;width:11px;height:11px;background:#fff;border:1px solid #6e6e6e;"></div>
<span class="t" style="top:747.3px;line-height:14px;height:14px;font-size:12px;color:#2f5483;left:54.6px;transform:scaleX(0.92);transform-origin:0 50%;">nicht Drucken</span>
<div style="left:145px;top:728px;width:1px;height:45px;background:#9dbbd7;"></div>
<div style="left:146px;top:728px;width:1px;height:45px;background:#f2f6fa;"></div>
<div style="left:153px;top:728px;width:99px;height:19px;background:#fff;border:1px solid #6b6b6b;"><svg width="9" height="8" viewBox="0 0 9 8" style="position:absolute;right:3px;top:6.4px"><path d="M0.9 1.2 L4.5 5.6 L8.1 1.2" fill="none" stroke="#565656" stroke-width="2"/></svg></div>
<span class="t" style="top:730.8px;line-height:14px;height:14px;font-size:12px;color:#2f5483;left:155.7px;transform:scaleX(0.88);transform-origin:0 50%;">NORMAL</span>
<div style="left:154px;top:755px;width:97px;height:17px;background:linear-gradient(#dde9f3 0%,#d2e2ef 45%,#c2d8ea 55%,#b6cfe5 100%);border:1px solid #7fa5c8;border-radius:5px;box-shadow:inset 0 0 0 1px rgba(255,255,255,.35);"></div>
<div style="left:157px;top:757px"><svg width="17" height="17" viewBox="0 0 17 17"><polygon points="0.4,11 5.4,16 16.2,6.6 15.8,5.8" fill="#111"/><polygon points="0,10 10.2,0.2 15.8,5.8 5,15.2" fill="#10a058" stroke="#075a58" stroke-width="1.1"/><polygon points="3,9.8 10,3 12.8,5.8 5.4,12.4" fill="#36cc7a"/><circle cx="2.9" cy="3.6" r="1.4" fill="#f0f020" stroke="#222" stroke-width="0.6"/><circle cx="5.9" cy="13.9" r="1.4" fill="#fff" stroke="#222" stroke-width="0.6"/><circle cx="11" cy="13.9" r="1.5" fill="#f0f020" stroke="#222" stroke-width="0.6"/><circle cx="14" cy="13.5" r="1.4" fill="#fff" stroke="#222" stroke-width="0.6"/><rect x="4.6" y="0.8" width="0.9" height="0.9" fill="#222"/><rect x="8.6" y="14.6" width="0.9" height="0.9" fill="#222"/></svg></div>
<span class="t" style="top:757.4px;line-height:14px;height:14px;font-size:12px;color:#000;left:176.7px;transform:scaleX(0.853);transform-origin:0 50%;">Besttarif (ctrl+b)</span>
<div style="left:261px;top:728px;width:1px;height:45px;background:#9dbbd7;"></div>
<div style="left:262px;top:728px;width:1px;height:45px;background:#f2f6fa;"></div>
<svg width="16" height="16" style="left:269px;top:731px"><circle cx="8" cy="8" r="6.5" fill="#ee7a44" stroke="#f3a07a" stroke-width="1.2"/><circle cx="8" cy="8" r="3.1" fill="#7c3a1e"/></svg>
<span class="t" style="top:732.6px;line-height:14px;height:14px;font-size:12px;color:#000;left:287.4px;transform:scaleX(0.88);transform-origin:0 50%;">19%</span>
<svg width="16" height="16" style="left:309px;top:731px"><circle cx="8" cy="8" r="6.4" fill="#fff" stroke="#8fb5d7" stroke-width="1.2"/></svg>
<span class="t" style="top:732.6px;line-height:14px;height:14px;font-size:12px;color:#000;left:327.8px;transform:scaleX(0.88);transform-origin:0 50%;">0%</span>
<div style="left:361px;top:728px;width:1px;height:45px;background:#9dbbd7;"></div>
<div style="left:362px;top:728px;width:1px;height:45px;background:#f2f6fa;"></div>
<div style="left:459px;top:760px;width:11px;height:11px;background:#fff;border:1px solid #6e6e6e;"></div>
<span class="t" style="top:759.5px;line-height:14px;height:14px;font-size:12px;color:#2f5483;left:474.7px;transform:scaleX(0.88);transform-origin:0 50%;">Preisfreigabe</span>
<span class="t" style="top:732.1px;line-height:14px;height:14px;font-size:12px;color:#f00000;left:569.8px;transform:scaleX(0.888);transform-origin:0 50%;">Summe : 74,97 € abzgl. Vor. Zahl. : 0,00 € = Rest : 74,97 €</span>
<div style="left:628px;top:755px;width:73px;height:17px;background:linear-gradient(#dde9f3 0%,#d2e2ef 45%,#c2d8ea 55%,#b6cfe5 100%);border:1px solid #7fa5c8;border-radius:5px;box-shadow:inset 0 0 0 1px rgba(255,255,255,.35);"></div>
<div style="left:640px;top:760px"><svg width="11" height="12" viewBox="0 0 11 12"><path d="M2.4 0.5 L0.6 1.8 V6.4 L4.6 8.6 L9.4 7.5" fill="none" stroke="#000" stroke-width="1.3"/><path d="M2.2 0.3 L9.4 7.5" stroke="#000" stroke-width="0.8"/><path d="M3.4 8 V9.4" stroke="#000" stroke-width="1.3"/><rect x="2.1" y="9" width="4.7" height="2" fill="#000"/><rect x="4" y="4" width="2" height="2" fill="#f00"/><path d="M5 5 L9 0.5" stroke="#f00" stroke-width="1.5"/></svg></div>
<span class="t" style="top:758px;line-height:14px;height:14px;font-size:12px;color:#000;left:654.0px;transform:scaleX(0.88);transform-origin:0 50%;">Inventar</span>
<div style="left:711px;top:755px;width:73px;height:17px;background:linear-gradient(#dde9f3 0%,#d2e2ef 45%,#c2d8ea 55%,#b6cfe5 100%);border:1px solid #7fa5c8;border-radius:5px;box-shadow:inset 0 0 0 1px rgba(255,255,255,.35);"></div>
<div style="left:722.6px;top:760px"><svg width="11" height="12" viewBox="0 0 11 12"><path d="M2.4 0.5 L0.6 1.8 V6.4 L4.6 8.6 L9.4 7.5" fill="none" stroke="#000" stroke-width="1.3"/><path d="M2.2 0.3 L9.4 7.5" stroke="#000" stroke-width="0.8"/><path d="M3.4 8 V9.4" stroke="#000" stroke-width="1.3"/><rect x="2.1" y="9" width="4.7" height="2" fill="#000"/><rect x="4" y="4" width="2" height="2" fill="#f00"/><path d="M5 5 L9 0.5" stroke="#f00" stroke-width="1.5"/></svg></div>
<span class="t" style="top:758px;line-height:14px;height:14px;font-size:12px;color:#000;left:736.4px;transform:scaleX(0.88);transform-origin:0 50%;">Zubehör</span>
<div style="left:794px;top:755px;width:53px;height:17px;background:linear-gradient(#e4edf5,#cfdfed);border:1px solid #b4cbe0;border-radius:5px;"></div>
<div style="left:804.2px;top:756.6px"><svg width="11" height="17" viewBox="0 0 11 17"><path d="M3.8 0.8 H7.2 V8 H10 L5.5 15.8 L1 8 H3.8Z" fill="#fff" stroke="#8c8c8c" stroke-width="1"/></svg></div>
<span class="t" style="top:758px;line-height:14px;height:14px;font-size:12px;color:#a0a0a0;left:817.7px;transform:scaleX(0.88);transform-origin:0 50%;">Maut</span>
<div style="left:944px;top:755px;width:54px;height:17px;background:linear-gradient(#dde9f3 0%,#d2e2ef 45%,#c2d8ea 55%,#b6cfe5 100%);border:1px solid #7fa5c8;border-radius:5px;box-shadow:inset 0 0 0 1px rgba(255,255,255,.35);"></div>
<span class="t" style="top:758px;line-height:14px;height:14px;font-size:12px;color:#000;left:772.5px;width:400px;text-align:center;transform:scaleX(0.9);transform-origin:50% 50%;">Gutschein +</span>
<div style="left:33px;top:778px;width:972px;height:200px;background:#fff;border:1px solid #a0a0a0;border-bottom-color:#8c8c8c;border-right-color:#8c8c8c;"></div>
<div style="left:34px;top:779px;width:955px;height:17px;background:linear-gradient(#ffffff,#fafafa 60%,#f1f1f1);"></div>
<div style="left:34px;top:797px;width:11px;height:19px;background:#f0f0f0;"></div>
<div style="left:46px;top:797px;width:943px;height:19px;background:#3399ff;"></div>
<div style="left:34px;top:817px;width:11px;height:18px;background:#f0f0f0;"></div>
<div style="left:46px;top:817px;width:943px;height:18px;background:#ffc6c6;"></div>
<div style="left:34px;top:836px;width:11px;height:18px;background:#f0f0f0;"></div>
<div style="left:46px;top:836px;width:943px;height:18px;background:#ffd2d2;"></div>
<div style="left:34px;top:855px;width:11px;height:18px;background:#f0f0f0;"></div>
<div style="left:46px;top:855px;width:943px;height:18px;background:#ffc6c6;"></div>
<div style="left:84px;top:797px;width:99px;height:19px;background:#f0f0f0;"></div>
<div style="left:45px;top:779px;width:1px;height:94px;background:#a6a6a6;"></div>
<div style="left:83px;top:779px;width:1px;height:94px;background:#a6a6a6;"></div>
<div style="left:183px;top:779px;width:1px;height:94px;background:#a6a6a6;"></div>
<div style="left:210px;top:779px;width:1px;height:94px;background:#a6a6a6;"></div>
<div style="left:338px;top:779px;width:1px;height:94px;background:#a6a6a6;"></div>
<div style="left:386px;top:779px;width:1px;height:94px;background:#a6a6a6;"></div>
<div style="left:451px;top:779px;width:1px;height:94px;background:#a6a6a6;"></div>
<div style="left:494px;top:779px;width:1px;height:94px;background:#a6a6a6;"></div>
<div style="left:570px;top:779px;width:1px;height:94px;background:#a6a6a6;"></div>
<div style="left:640px;top:779px;width:1px;height:94px;background:#a6a6a6;"></div>
<div style="left:667px;top:779px;width:1px;height:94px;background:#a6a6a6;"></div>
<div style="left:752px;top:779px;width:1px;height:94px;background:#a6a6a6;"></div>
<div style="left:796px;top:779px;width:1px;height:94px;background:#a6a6a6;"></div>
<div style="left:902px;top:779px;width:1px;height:94px;background:#a6a6a6;"></div>
<div style="left:948px;top:779px;width:1px;height:94px;background:#a6a6a6;"></div>
<div style="left:989px;top:779px;width:1px;height:94px;background:#a6a6a6;"></div>
<div style="left:34px;top:796px;width:955px;height:1px;background:#a6a6a6;"></div>
<div style="left:34px;top:816px;width:955px;height:1px;background:#a6a6a6;"></div>
<div style="left:34px;top:835px;width:955px;height:1px;background:#a6a6a6;"></div>
<div style="left:34px;top:854px;width:955px;height:1px;background:#a6a6a6;"></div>
<div style="left:34px;top:873px;width:955px;height:1px;background:#a6a6a6;"></div>
<div style="left:45px;top:779px;width:1px;height:17px;background:#d8d8d8;"></div>
<div style="left:83px;top:779px;width:1px;height:17px;background:#d5d5d5;"></div>
<div style="left:183px;top:779px;width:1px;height:17px;background:#d5d5d5;"></div>
<div style="left:210px;top:779px;width:1px;height:17px;background:#d5d5d5;"></div>
<div style="left:338px;top:779px;width:1px;height:17px;background:#d5d5d5;"></div>
<div style="left:386px;top:779px;width:1px;height:17px;background:#d5d5d5;"></div>
<div style="left:451px;top:779px;width:1px;height:17px;background:#d5d5d5;"></div>
<div style="left:494px;top:779px;width:1px;height:17px;background:#d5d5d5;"></div>
<div style="left:570px;top:779px;width:1px;height:17px;background:#d5d5d5;"></div>
<div style="left:640px;top:779px;width:1px;height:17px;background:#d5d5d5;"></div>
<div style="left:667px;top:779px;width:1px;height:17px;background:#d5d5d5;"></div>
<div style="left:752px;top:779px;width:1px;height:17px;background:#d5d5d5;"></div>
<div style="left:796px;top:779px;width:1px;height:17px;background:#d5d5d5;"></div>
<div style="left:902px;top:779px;width:1px;height:17px;background:#d5d5d5;"></div>
<div style="left:948px;top:779px;width:1px;height:17px;background:#d5d5d5;"></div>
<div style="left:34px;top:796px;width:955px;height:1px;background:#c8c8c8;"></div>
<svg width="8" height="10" style="left:37px;top:802px"><path d="M0.5 0.5 L6.5 5 L0.5 9.5Z" fill="#000"/></svg>
<span class="t" style="top:781.5px;line-height:14px;height:14px;font-size:12px;color:#000;left:48.5px;transform:scaleX(0.88);transform-origin:0 50%;">Pos</span>
<span class="t" style="top:781.5px;line-height:14px;height:14px;font-size:12px;color:#000;left:87.6px;transform:scaleX(0.88);transform-origin:0 50%;">Tarif</span>
<span class="t" style="top:781.5px;line-height:14px;height:14px;font-size:12px;color:#000;left:186.8px;transform:scaleX(0.88);transform-origin:0 50%;">Grp</span>
<span class="t" style="top:781.5px;line-height:14px;height:14px;font-size:12px;color:#000;left:213.4px;transform:scaleX(0.88);transform-origin:0 50%;">Beschreibung</span>
<span class="t" style="top:781.5px;line-height:14px;height:14px;font-size:12px;color:#000;left:341.8px;transform:scaleX(0.88);transform-origin:0 50%;">genutzt</span>
<span class="t" style="top:781.5px;line-height:14px;height:14px;font-size:12px;color:#000;left:389.9px;transform:scaleX(0.88);transform-origin:0 50%;">berechnet</span>
<span class="t" style="top:781.5px;line-height:14px;height:14px;font-size:12px;color:#000;left:454.8px;transform:scaleX(0.88);transform-origin:0 50%;">Einheit</span>
<span class="t" style="top:781.5px;line-height:14px;height:14px;font-size:12px;color:#000;left:497.6px;transform:scaleX(0.88);transform-origin:0 50%;">Netto</span>
<span class="t" style="top:781.5px;line-height:14px;height:14px;font-size:12px;color:#000;left:574.1px;transform:scaleX(0.88);transform-origin:0 50%;">Brutto</span>
<span class="t" style="top:781.5px;line-height:14px;height:14px;font-size:12px;color:#000;left:643.2px;transform:scaleX(0.88);transform-origin:0 50%;">%</span>
<span class="t" style="top:781.5px;line-height:14px;height:14px;font-size:12px;color:#000;left:671.1px;transform:scaleX(0.88);transform-origin:0 50%;">Gesamt</span>
<span class="t" style="top:781.5px;line-height:14px;height:14px;font-size:12px;color:#000;left:755.5px;transform:scaleX(0.88);transform-origin:0 50%;">Kmfrei</span>
<span class="t" style="top:781.5px;line-height:14px;height:14px;font-size:12px;color:#000;left:798.6px;transform:scaleX(0.88);transform-origin:0 50%;">ZusKM</span>
<span class="t" style="top:781.5px;line-height:14px;height:14px;font-size:12px;color:#000;left:905.0px;transform:scaleX(0.88);transform-origin:0 50%;">ZusEinh</span>
<span class="t" style="top:781.5px;line-height:14px;height:14px;font-size:12px;color:#000;left:951.6px;transform:scaleX(0.88);transform-origin:0 50%;">RE-K</span>
<span class="t" style="top:800px;line-height:14px;height:14px;font-size:12px;color:#fff;right:1198.0px;transform:scaleX(0.88);transform-origin:100% 50%;">1</span>
<span class="t" style="top:800px;line-height:14px;height:14px;font-size:12px;color:#000;left:85.7px;transform:scaleX(0.88);transform-origin:0 50%;">[NORMAL]PT100</span>
<span class="t" style="top:800px;line-height:14px;height:14px;font-size:12px;color:#fff;left:186.2px;transform:scaleX(0.88);transform-origin:0 50%;">A</span>
<span class="t" style="top:800px;line-height:14px;height:14px;font-size:12px;color:#fff;left:212.8px;transform:scaleX(0.907);transform-origin:0 50%;">PKW Tagestarif inkl. 100</span>
<span class="t" style="top:800px;line-height:14px;height:14px;font-size:12px;color:#fff;right:893.5px;transform:scaleX(0.88);transform-origin:100% 50%;">3,00</span>
<span class="t" style="top:800px;line-height:14px;height:14px;font-size:12px;color:#fff;right:828.8px;transform:scaleX(0.88);transform-origin:100% 50%;">3,00</span>
<span class="t" style="top:800px;line-height:14px;height:14px;font-size:12px;color:#fff;left:454.2px;transform:scaleX(0.88);transform-origin:0 50%;">Tage</span>
<span class="t" style="top:800px;line-height:14px;height:14px;font-size:12px;color:#fff;right:709.9px;transform:scaleX(0.88);transform-origin:100% 50%;">21,00 €</span>
<span class="t" style="top:800px;line-height:14px;height:14px;font-size:12px;color:#fff;right:640.0px;transform:scaleX(0.88);transform-origin:100% 50%;">24,99 €</span>
<span class="t" style="top:800px;line-height:14px;height:14px;font-size:12px;color:#fff;right:527.8px;transform:scaleX(0.88);transform-origin:100% 50%;">63,00 €</span>
<span class="t" style="top:800px;line-height:14px;height:14px;font-size:12px;color:#fff;right:483.9px;transform:scaleX(0.88);transform-origin:100% 50%;">300</span>
<span class="t" style="top:800px;line-height:14px;height:14px;font-size:12px;color:#fff;right:377.8px;transform:scaleX(0.88);transform-origin:100% 50%;">0,10 €</span>
<span class="t" style="top:800px;line-height:14px;height:14px;font-size:12px;color:#fff;right:331.7px;transform:scaleX(0.88);transform-origin:100% 50%;">7,00 €</span>
<span class="t" style="top:819px;line-height:14px;height:14px;font-size:12px;color:#000;right:1197.6px;transform:scaleX(0.88);transform-origin:100% 50%;">99991</span>
<span class="t" style="top:819px;line-height:14px;height:14px;font-size:12px;color:#000;left:85.7px;transform:scaleX(0.88);transform-origin:0 50%;">NS.</span>
<span class="t" style="top:819px;line-height:14px;height:14px;font-size:12px;color:#000;left:212.8px;transform:scaleX(0.88);transform-origin:0 50%;">Nettosumme</span>
<span class="t" style="top:819px;line-height:14px;height:14px;font-size:12px;color:#000;right:527.8px;transform:scaleX(0.88);transform-origin:100% 50%;">63,00 €</span>
<span class="t" style="top:838px;line-height:14px;height:14px;font-size:12px;color:#000;right:1197.6px;transform:scaleX(0.88);transform-origin:100% 50%;">99992</span>
<span class="t" style="top:838px;line-height:14px;height:14px;font-size:12px;color:#000;left:85.7px;transform:scaleX(0.88);transform-origin:0 50%;">USt.</span>
<span class="t" style="top:838px;line-height:14px;height:14px;font-size:12px;color:#000;left:212.8px;transform:scaleX(0.88);transform-origin:0 50%;">Umsatzsteuer  19 %</span>
<span class="t" style="top:838px;line-height:14px;height:14px;font-size:12px;color:#000;right:709.9px;transform:scaleX(0.88);transform-origin:100% 50%;">63,00 €</span>
<span class="t" style="top:838px;line-height:14px;height:14px;font-size:12px;color:#000;left:643.2px;transform:scaleX(0.88);transform-origin:0 50%;">19,0</span>
<span class="t" style="top:838px;line-height:14px;height:14px;font-size:12px;color:#000;right:527.8px;transform:scaleX(0.88);transform-origin:100% 50%;">11,97 €</span>
<span class="t" style="top:856.8px;line-height:14px;height:14px;font-size:12px;color:#000;right:1197.6px;transform:scaleX(0.88);transform-origin:100% 50%;">99993</span>
<span class="t" style="top:856.8px;line-height:14px;height:14px;font-size:12px;color:#000;left:85.7px;transform:scaleX(0.88);transform-origin:0 50%;">ES.</span>
<span class="t" style="top:856.8px;line-height:14px;height:14px;font-size:12px;color:#000;left:212.8px;transform:scaleX(0.88);transform-origin:0 50%;">Endsumme</span>
<span class="t" style="top:856.8px;line-height:14px;height:14px;font-size:12px;color:#000;right:527.8px;transform:scaleX(0.88);transform-origin:100% 50%;">74,97 €</span>
<div style="left:962px;top:800px;width:11px;height:11px;background:#fff;border:1px solid #6e6e6e;"></div>
<div style="left:962px;top:819px;width:11px;height:11px;background:#fff;border:1px solid #6e6e6e;"></div>
<div style="left:962px;top:838px;width:11px;height:11px;background:#fff;border:1px solid #6e6e6e;"></div>
<div style="left:962px;top:857px;width:11px;height:11px;background:#fff;border:1px solid #6e6e6e;"></div>
<div style="left:990px;top:779px;width:16px;height:181px;background:#fff;"></div>
<div style="left:990px;top:796px;width:16px;height:1px;background:#c8c8c8;"></div>
<div style="left:990px;top:943px;width:16px;height:1px;background:#c8c8c8;"></div>
<div style="left:989px;top:779px;width:1px;height:181px;background:#cfcfcf;"></div>
<div style="left:990px;top:797px;width:15px;height:80px;background:#dcdcdc;border-left:1px solid #c4c4c4;"></div>
<svg width="12" height="10" style="left:992px;top:783px"><path d="M1.5 7.5 L6 2.5 L10.5 7.5" fill="none" stroke="#555" stroke-width="1.5"/></svg>
<svg width="12" height="10" style="left:992px;top:947px"><path d="M1.5 2.5 L6 7.5 L10.5 2.5" fill="none" stroke="#555" stroke-width="1.5"/></svg>
<div style="left:994px;top:834px;width:8px;height:1.4px;background:#555;"></div>
<div style="left:994px;top:837px;width:8px;height:1.4px;background:#555;"></div>
<div style="left:994px;top:840px;width:8px;height:1.4px;background:#555;"></div>
<div style="left:34px;top:960px;width:972px;height:19px;background:#f0f0f0;"></div>
<div style="left:35px;top:961px;width:14px;height:14px;background:#e1e1e1;border:1px solid #6e6e6e;"></div>
<div style="left:38.5px;top:968px;width:9px;height:2.4px;background:#2a9d00;"></div>
<div style="left:41.8px;top:964.5px;width:2.4px;height:9px;background:#2a9d00;"></div>
<div style="left:53px;top:961px;width:14px;height:14px;background:#e1e1e1;border:1px solid #6e6e6e;"></div>
<div style="left:56.5px;top:968px;width:9px;height:2.2px;background:#c80000;"></div>
<div style="left:71px;top:961px;width:14px;height:14px;background:#f5f5f5;border:1px solid #b5b5b5;"></div>
<svg width="16" height="16" style="left:71px;top:961px"><path d="M3.5 8.2 L6.6 11 L12.3 5" fill="none" stroke="#b4b4b4" stroke-width="2"/></svg>
<div style="left:89px;top:961px;width:14px;height:14px;background:#f5f5f5;border:1px solid #b5b5b5;"></div>
<svg width="16" height="16" style="left:89px;top:961px"><path d="M4 4 L12 12 M12 4 L4 12" fill="none" stroke="#b0b0b0" stroke-width="2"/></svg>
<div style="left:156px;top:960px;width:833px;height:19px;background:#fff;"></div>
<div style="left:156px;top:960px;width:1px;height:19px;background:#c8c8c8;"></div>
<div style="left:172px;top:960px;width:1px;height:19px;background:#c8c8c8;"></div>
<div style="left:972px;top:960px;width:1px;height:19px;background:#c8c8c8;"></div>
<div style="left:156px;top:960px;width:833px;height:1px;background:#d0d0d0;"></div>
<svg width="10" height="12" style="left:160px;top:963.5px"><path d="M7.5 1.5 L2.5 6 L7.5 10.5" fill="none" stroke="#5a5a5a" stroke-width="1.3"/></svg>
<svg width="10" height="12" style="left:976px;top:963.5px"><path d="M2.5 1.5 L7.5 6 L2.5 10.5" fill="none" stroke="#5a5a5a" stroke-width="1.3"/></svg>
<div style="left:989px;top:960px;width:1px;height:19px;background:#d0d0d0;"></div>
<div style="left:1010px;top:721px;width:252px;height:258px;border:1px solid #a3bfd9;border-radius:4px;box-shadow:inset 0 0 0 1px rgba(255,255,255,.55);"></div>
<div style="left:1019.7px;top:719px;width:130.2px;height:5px;background:#e2e9f2;"></div>
<span class="t" style="top:713.2px;line-height:14px;height:14px;font-size:12px;color:#2f5483;left:1020.4px;transform:scaleX(0.894);transform-origin:0 50%;">Zahlung (Euro) / Sonstiges</span>
<span class="t" style="top:734.7px;line-height:14px;height:14px;font-size:12px;color:#2f5483;left:1014.0px;transform:scaleX(0.88);transform-origin:0 50%;">Zahlart</span>
<div style="left:1072px;top:731px;width:107px;height:19px;background:#fff;border:1px solid #6b6b6b;"><svg width="9" height="8" viewBox="0 0 9 8" style="position:absolute;right:3px;top:6.4px"><path d="M0.9 1.2 L4.5 5.6 L8.1 1.2" fill="none" stroke="#565656" stroke-width="2"/></svg></div>
<span class="t" style="top:734.4px;line-height:14px;height:14px;font-size:12px;color:#2f5483;left:1074.7px;transform:scaleX(0.88);transform-origin:0 50%;">Rechnung</span>
<span class="t" style="top:759.5px;line-height:14px;height:14px;font-size:12px;color:#2f5483;left:1014.0px;transform:scaleX(0.88);transform-origin:0 50%;">Kontoinh.</span>
<div style="left:1072px;top:757px;width:146px;height:17px;background:#fff;border:1px solid #94b5d5;border-radius:1.5px;box-shadow:0 0 0 1px rgba(210,226,241,.55);"></div>
<span class="t" style="top:784.3px;line-height:14px;height:14px;font-size:12px;color:#2f5483;left:1014.0px;transform:scaleX(0.88);transform-origin:0 50%;">Vor.-Zahl.</span>
<div style="left:1072px;top:782px;width:77px;height:17px;background:#fff;border:1px solid #94b5d5;border-radius:1.5px;box-shadow:0 0 0 1px rgba(210,226,241,.55);"></div>
<span class="t" style="top:784.3px;line-height:14px;height:14px;font-size:12px;color:#000;right:129.6px;transform:scaleX(0.88);transform-origin:100% 50%;">0,00 €</span>
<div style="left:1154px;top:782px;width:64px;height:17px;background:linear-gradient(#dde9f3 0%,#d2e2ef 45%,#c2d8ea 55%,#b6cfe5 100%);border:1px solid #7fa5c8;border-radius:5px;box-shadow:inset 0 0 0 1px rgba(255,255,255,.35);"></div>
<span class="t" style="top:784.6px;line-height:14px;height:14px;font-size:12px;color:#000;left:987px;width:400px;text-align:center;transform:scaleX(0.88);transform-origin:50% 50%;">Buchen(F8)</span>
<span class="t" style="top:809.6px;line-height:14px;height:14px;font-size:12px;color:#2f5483;left:1014.0px;transform:scaleX(0.88);transform-origin:0 50%;">Rabatt (%)</span>
<div style="left:1072px;top:807px;width:77px;height:17px;background:#fff;border:1px solid #94b5d5;border-radius:1.5px;box-shadow:0 0 0 1px rgba(210,226,241,.55);"></div>
<span class="t" style="top:834.6px;line-height:14px;height:14px;font-size:12px;color:#2f5483;left:1014.0px;transform:scaleX(0.95);transform-origin:0 50%;">SB VK/TK/</span>
<div style="left:1072px;top:832px;width:60px;height:17px;background:#fff;border:1px solid #94b5d5;border-radius:1.5px;box-shadow:0 0 0 1px rgba(210,226,241,.55);"></div>
<span class="t" style="top:834.3px;line-height:14px;height:14px;font-size:12px;color:#000;left:1073.6px;transform:scaleX(0.902);transform-origin:0 50%;">10.000,00 €</span>
<div style="left:1136px;top:832px;width:60px;height:17px;background:#fff;border:1px solid #94b5d5;border-radius:1.5px;box-shadow:0 0 0 1px rgba(210,226,241,.55);"></div>
<div style="left:1200px;top:832px;width:60px;height:17px;background:#fff;border:1px solid #94b5d5;border-radius:1.5px;box-shadow:0 0 0 1px rgba(210,226,241,.55);"></div>
<div style="left:1017px;top:884px;width:11px;height:11px;background:#fff;border:1px solid #6e6e6e;"></div>
<span class="t" style="top:884px;line-height:14px;height:14px;font-size:12px;color:#2f5483;left:1032.5px;transform:scaleX(0.88);transform-origin:0 50%;">Pers. Ausw.</span>
<div style="left:1145px;top:884px;width:11px;height:11px;background:#fff;border:1px solid #6e6e6e;"></div>
<span class="t" style="top:884px;line-height:14px;height:14px;font-size:12px;color:#2f5483;left:1160.6px;transform:scaleX(0.88);transform-origin:0 50%;">Weitere Fah.</span>
<div style="left:1017px;top:902px;width:11px;height:11px;background:#fff;border:1px solid #6e6e6e;"></div>
<span class="t" style="top:902px;line-height:14px;height:14px;font-size:12px;color:#2f5483;left:1032.5px;transform:scaleX(0.88);transform-origin:0 50%;">Führerschein</span>
<svg width="1278" height="994" viewBox="0 0 1278 994" style="position:absolute;left:0;top:0;z-index:50"><ellipse cx="143.4" cy="76.4" rx="77" ry="68.4" fill="none" stroke="#e31b23" stroke-width="3"/><ellipse cx="326.5" cy="75.25" rx="76.4" ry="68.35" fill="none" stroke="#e31b23" stroke-width="3"/><ellipse cx="513.4" cy="76.4" rx="77" ry="68.4" fill="none" stroke="#e31b23" stroke-width="3"/><ellipse cx="684.5" cy="75.25" rx="76.9" ry="68.35" fill="none" stroke="#e31b23" stroke-width="3"/><ellipse cx="857.65" cy="76.15" rx="76.85" ry="68.65" fill="none" stroke="#e31b23" stroke-width="3"/><ellipse cx="1029.85" cy="77.6" rx="76.55" ry="68.1" fill="none" stroke="#e31b23" stroke-width="3"/><line x1="143" y1="145" x2="138.6" y2="247.5" stroke="#e31b23" stroke-width="3.3"/><line x1="358.5" y1="136.5" x2="357.3" y2="257" stroke="#e31b23" stroke-width="3.3"/><line x1="545.5" y1="137" x2="544" y2="262.6" stroke="#e31b23" stroke-width="3.3"/><line x1="689.2" y1="145" x2="689.6" y2="266.4" stroke="#e31b23" stroke-width="3.3"/><line x1="885.5" y1="140" x2="885.5" y2="256.6" stroke="#e31b23" stroke-width="3.3"/><line x1="1062.7" y1="138" x2="1062.6" y2="238.6" stroke="#e31b23" stroke-width="3.3"/><path d="M143.5 63.8 V79.5 H146.9 V82.2 H134.9 V79.5 H139.4 V67.6 L135.7 69.7 L134.6 67 L140.6 63.8 Z" fill="#e31b23"/><text x="327" y="81" text-anchor="middle" font-family="Liberation Sans" font-weight="bold" font-size="25.6" fill="#e31b23">2</text><text x="514.3" y="81" text-anchor="middle" font-family="Liberation Sans" font-weight="bold" font-size="25.6" fill="#e31b23">3</text><text x="684" y="80.5" text-anchor="middle" font-family="Liberation Sans" font-weight="bold" font-size="25.6" fill="#e31b23">4</text><text x="856.3" y="82.7" text-anchor="middle" font-family="Liberation Sans" font-weight="bold" font-size="25.6" fill="#e31b23">5</text><text x="1029.5" y="84.7" text-anchor="middle" font-family="Liberation Sans" font-weight="bold" font-size="25.6" fill="#e31b23">6</text></svg>
</div></body></html>
